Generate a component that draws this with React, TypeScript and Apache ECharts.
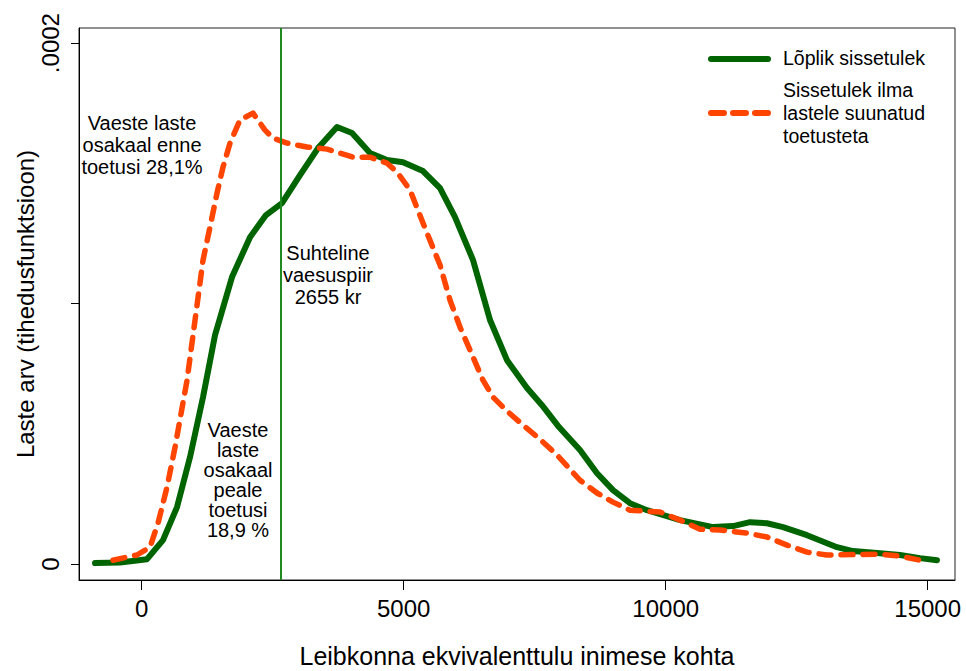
import React, { useEffect, useRef } from "react";
import * as echarts from "echarts";

const finalX = [-891, -414, 101, 406, 674, 922, 1170, 1399, 1723, 2067, 2372, 2677, 3021, 3365, 3727, 4013, 4357, 4681, 4987, 5368, 5693, 5979, 6323, 6647, 6971, 7353, 7639, 7963, 8364, 8689, 8994, 9318, 9643, 10273, 10903, 11284, 11609, 11933, 12239, 12697, 13269, 13574, 14090, 14471, 14853, 15178];
const finalY = [0.0000004, 0.0000006, 0.0000019, 0.0000092, 0.0000219, 0.0000411, 0.0000641, 0.0000879, 0.0001102, 0.0001255, 0.000134, 0.0001386, 0.0001493, 0.0001597, 0.0001678, 0.0001655, 0.0001578, 0.0001551, 0.0001543, 0.0001509, 0.0001443, 0.0001332, 0.0001167, 0.0000937, 0.0000783, 0.0000676, 0.000061, 0.0000526, 0.0000438, 0.0000349, 0.0000284, 0.0000234, 0.0000207, 0.0000169, 0.0000142, 0.0000146, 0.0000161, 0.0000157, 0.0000142, 0.0000111, 0.0000065, 0.000005, 0.0000042, 0.0000035, 0.0000023, 0.0000015];

const preX = [-548, -90, 158, 311, 483, 636, 865, 1170, 1303, 1437, 1551, 1685, 1876, 2124, 2353, 2506, 2773, 3155, 3536, 3784, 4033, 4357, 4681, 4872, 5120, 5368, 5693, 5884, 6074, 6323, 6513, 6704, 6952, 7296, 7620, 7944, 8364, 8689, 8994, 9318, 9891, 10273, 10654, 11036, 11552, 11933, 12315, 12697, 13078, 14090, 14471, 14853];
const preY = [0.0000015, 0.0000035, 0.0000065, 0.0000157, 0.0000296, 0.0000449, 0.0000706, 0.0001167, 0.0001294, 0.0001424, 0.0001524, 0.0001616, 0.0001705, 0.0001731, 0.0001666, 0.0001635, 0.0001616, 0.0001601, 0.0001593, 0.0001578, 0.0001562, 0.0001562, 0.0001539, 0.0001505, 0.0001436, 0.0001309, 0.0001148, 0.0001013, 0.000091, 0.0000795, 0.0000706, 0.0000641, 0.0000591, 0.000053, 0.0000476, 0.0000415, 0.0000322, 0.0000273, 0.0000238, 0.0000207, 0.00002, 0.0000169, 0.0000134, 0.0000131, 0.0000119, 0.0000104, 0.0000073, 0.0000046, 0.0000035, 0.0000038, 0.0000031, 0.0000015];

const xTicks = [0, 5000, 10000, 15000];
const yTicks = [0, 0.0001, 0.0002];
const yLabelTicks = [0, 0.0002];
const povertyLine = 2655;

const seriesNames = ["Lõplik sissetulek", "Sissetulek ilma\nlastele suunatud\ntoetusteta"];
const noteBefore = "Vaeste laste\nosakaal enne\ntoetusi 28,1%";
const noteLine = "Suhteline\nvaesuspiir\n2655 kr";
const noteAfter = "Vaeste\nlaste\nosakaal\npeale\ntoetusi\n18,9 %";
const xTitle = "Leibkonna ekvivalenttulu inimese kohta";
const yTitle = "Laste arv (tihedusfunktsioon)";

const FONT = "'Liberation Sans', Arial, sans-serif";
const GREEN = "#006400";
const ORANGE = "#ff4500";

export default function App() {
  const ref = useRef<HTMLDivElement>(null);
  useEffect(() => {
    if (!ref.current) return;
    const chart = echarts.init(ref.current, null, { renderer: "svg" });
    const option: any = {
      animation: false,
      backgroundColor: "#ffffff",
      textStyle: { fontFamily: FONT },
      grid: {
        left: 79, top: 28, right: 11, bottom: 91,
        containLabel: false, outerBoundsMode: "none",
        show: true, borderColor: "#222", borderWidth: 1, backgroundColor: "transparent",
      },
      xAxis: {
        type: "value",
        min: -1197, max: 15521,
        name: xTitle, nameLocation: "middle", nameGap: 63,
        nameTextStyle: { fontSize: 25, color: "#000", fontFamily: FONT },
        axisLine: { show: true, onZero: false, lineStyle: { color: "#000", width: 1 } },
        axisTick: { show: true, inside: false, length: 10, customValues: xTicks, lineStyle: { color: "#000" } },
        axisLabel: {
          customValues: xTicks, fontSize: 24, color: "#000", margin: 16, fontFamily: FONT,
          formatter: (v: number) => String(v),
        },
        splitLine: { show: false },
      },
      yAxis: {
        type: "value",
        min: -0.0000061, max: 0.0002058,
        name: yTitle, nameLocation: "middle", nameGap: 42, nameRotate: 90, nameMoveOverlap: false,
        nameTextStyle: { fontSize: 24, color: "#000", fontFamily: FONT },
        axisLine: { show: true, onZero: false, lineStyle: { color: "#000", width: 1 } },
        axisTick: { show: true, inside: false, length: 8, customValues: yTicks, lineStyle: { color: "#000" } },
        axisLabel: {
          customValues: yLabelTicks, rotate: 90, fontSize: 24, color: "#000", margin: 17, fontFamily: FONT,
          formatter: (v: number) => (v === 0 ? "0" : ".0002"),
        },
        splitLine: { show: false },
      },
      series: [
        {
          name: seriesNames[0], type: "line", symbol: "none", smooth: false,
          data: finalX.map((x, i) => [x, finalY[i]]),
          lineStyle: { color: GREEN, width: 6, cap: "round", join: "round" },
          z: 3,
          markLine: {
            silent: true, symbol: ["none", "none"], label: { show: false },
            lineStyle: { color: "#1f8a1f", width: 2, type: "solid" },
            data: [{ xAxis: povertyLine }],
          },
        },
        {
          name: seriesNames[1], type: "line", symbol: "none", smooth: false,
          data: preX.map((x, i) => [x, preY[i]]),
          lineStyle: { color: ORANGE, width: 5.5, type: [12, 10], cap: "round", join: "round" },
          z: 4,
        },
      ],
      graphic: [
        { type: "line", shape: { x1: 711, y1: 59, x2: 768, y2: 59 }, style: { stroke: GREEN, lineWidth: 6, lineCap: "round" } },
        { type: "text", left: 783, top: 48, style: { text: seriesNames[0], fontSize: 19.5, fill: "#000", fontFamily: FONT } },
        { type: "line", shape: { x1: 711, y1: 113, x2: 768, y2: 113 }, style: { stroke: ORANGE, lineWidth: 6, lineCap: "round", lineDash: [13, 9] } },
        { type: "text", left: 783, top: 78, style: { text: seriesNames[1], fontSize: 19.5, lineHeight: 23, fill: "#000", fontFamily: FONT } },
        { type: "text", x: 142, y: 112, style: { text: noteBefore, fontSize: 20, lineHeight: 22, fill: "#000", fontFamily: FONT, textAlign: "center" } },
        { type: "text", x: 328, y: 242, style: { text: noteLine, fontSize: 20, lineHeight: 22, fill: "#000", fontFamily: FONT, textAlign: "center" } },
        { type: "text", x: 238, y: 420, style: { text: noteAfter, fontSize: 20, lineHeight: 20, fill: "#000", fontFamily: FONT, textAlign: "center" } },
      ],
    };
    chart.setOption(option);
    return () => chart.dispose();
  }, []);
  return <div ref={ref} style={{ position: "fixed", left: 0, top: 0, width: 966, height: 671, background: "#fff" }} />;
}
